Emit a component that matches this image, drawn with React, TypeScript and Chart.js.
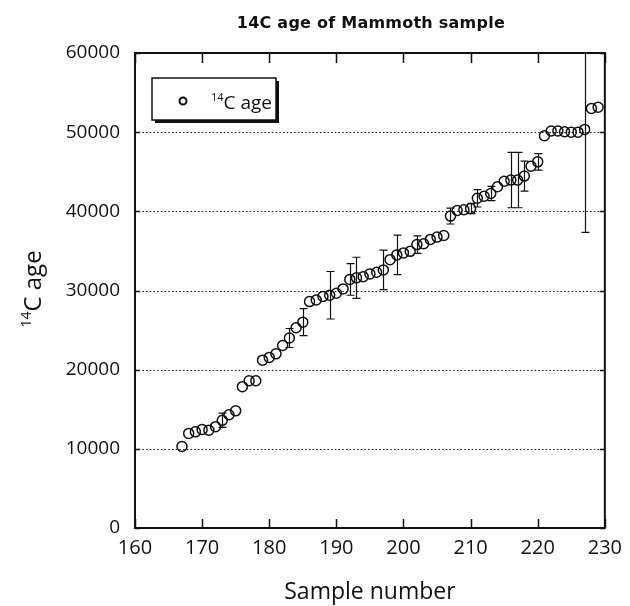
import React, { useEffect, useRef } from "react";
import { Chart, registerables } from "chart.js";

Chart.register(...registerables);

const samples = [
  167, 168, 169, 170, 171, 172, 173, 174, 175, 176, 177, 178, 179, 180, 181, 182,
  183, 184, 185, 186, 187, 188, 189, 190, 191, 192, 193, 194, 195, 196, 197, 198,
  199, 200, 201, 202, 203, 204, 205, 206, 207, 208, 209, 210, 211, 212, 213, 214,
  215, 216, 217, 218, 219, 220, 221, 222, 223, 224, 225, 226, 227, 228, 229,
];

const ages = [
  10300, 11950, 12150, 12450, 12350, 12800, 13600, 14300, 14800, 17850, 18600, 18600,
  21200, 21550, 22000, 23050, 24000, 25300, 26000, 28600, 28800, 29250, 29400, 29650,
  30200, 31400, 31600, 31750, 32100, 32300, 32600, 33900, 34500, 34750, 34950, 35800,
  35900, 36450, 36750, 36950, 39400, 40100, 40200, 40350, 41650, 41900, 42250, 43100,
  43800, 43950, 43950, 44450, 45700, 46250, 49550, 50150, 50150, 50050, 50000, 50000,
  50350, 53000, 53150,
];

const errors = [
  0, 0, 0, 0, 0, 0, 900, 0, 0, 0, 0, 0,
  0, 0, 0, 0, 1200, 0, 1700, 0, 0, 0, 3000, 0,
  0, 2000, 2600, 0, 0, 0, 2500, 0, 2500, 0, 0, 1100,
  0, 0, 0, 0, 1000, 0, 0, 650, 1100, 0, 900, 0,
  0, 3500, 3500, 1900, 0, 1050, 0, 0, 0, 0, 0, 0,
  13000, 0, 0,
];

const xTicks = [160, 170, 180, 190, 200, 210, 220, 230];
const yTicks = [0, 10000, 20000, 30000, 40000, 50000, 60000];

const titleText = "14C age of Mammoth sample";
const xAxisTitle = "Sample number";
const yAxisTitleSup = "14";
const yAxisTitleMain = "C age";
const legendSup = "14";
const legendMain = "C age";

const INK = "#111111";

const decorPlugin = {
  id: "decor",
  beforeDatasetsDraw(chart: any) {
    const { ctx, chartArea, scales } = chart;
    const xs = scales.x;
    const ys = scales.y;
    const { left, right, top, bottom } = chartArea;
    ctx.save();
    ctx.strokeStyle = INK;
    ctx.lineWidth = 1.2;
    ctx.setLineDash([1.5, 2.2]);
    yTicks.forEach((v) => {
      if (v === yTicks[0] || v === yTicks[yTicks.length - 1]) return;
      const y = Math.round(ys.getPixelForValue(v)) + 0.5;
      ctx.beginPath();
      ctx.moveTo(left, y);
      ctx.lineTo(right, y);
      ctx.stroke();
    });
    ctx.setLineDash([]);
    ctx.lineWidth = 1.5;
    yTicks.forEach((v) => {
      const y = Math.round(ys.getPixelForValue(v)) + 0.5;
      ctx.beginPath();
      ctx.moveTo(left, y);
      ctx.lineTo(left + 5, y);
      ctx.moveTo(right, y);
      ctx.lineTo(right - 5, y);
      ctx.stroke();
    });
    xTicks.forEach((v) => {
      const x = Math.round(xs.getPixelForValue(v)) + 0.5;
      ctx.beginPath();
      ctx.moveTo(x, bottom);
      ctx.lineTo(x, bottom - 9);
      ctx.moveTo(x, top);
      ctx.lineTo(x, top + 10);
      ctx.stroke();
    });
    ctx.lineWidth = 2;
    ctx.strokeRect(left, top, right - left, bottom - top);

    ctx.beginPath();
    ctx.rect(left, top, right - left, bottom - top);
    ctx.clip();
    ctx.lineWidth = 1.2;
    samples.forEach((s, i) => {
      const e = errors[i];
      if (!e) return;
      const x = Math.round(xs.getPixelForValue(s)) + 0.5;
      const y1 = ys.getPixelForValue(ages[i] - e);
      const y2 = ys.getPixelForValue(ages[i] + e);
      ctx.beginPath();
      ctx.moveTo(x, y1);
      ctx.lineTo(x, y2);
      ctx.moveTo(x - 4, y1);
      ctx.lineTo(x + 4, y1);
      ctx.moveTo(x - 4, y2);
      ctx.lineTo(x + 4, y2);
      ctx.stroke();
    });
    ctx.restore();
  },
  afterDraw(chart: any) {
    const { ctx, chartArea } = chart;
    const { left, right } = chartArea;
    const cx = (left + right) / 2;
    ctx.save();
    ctx.fillStyle = INK;

    ctx.font = "bold 16px 'DejaVu Sans'";
    ctx.textAlign = "left";
    ctx.textBaseline = "alphabetic";
    const targetW = 268;
    const w0 = ctx.measureText(titleText).width;
    const ls = Math.max(0, (targetW - w0) / (titleText.length - 1));
    (ctx as any).letterSpacing = ls.toFixed(2) + "px";
    const w1 = ctx.measureText(titleText).width;
    ctx.fillText(titleText, cx - w1 / 2 + 1, 28);
    (ctx as any).letterSpacing = "0px";

    ctx.font = "23px 'Open Sans'";
    ctx.textAlign = "center";
    ctx.fillText(xAxisTitle, cx, 599);

    ctx.save();
    ctx.translate(41, 289);
    ctx.rotate(-Math.PI / 2);
    ctx.textAlign = "left";
    ctx.font = "14px 'Open Sans'";
    const sw = ctx.measureText(yAxisTitleSup).width;
    ctx.font = "24px 'Open Sans'";
    const mw = ctx.measureText(yAxisTitleMain).width;
    const start = -(sw + mw) / 2;
    ctx.font = "14px 'Open Sans'";
    ctx.fillText(yAxisTitleSup, start, -10);
    ctx.font = "24px 'Open Sans'";
    ctx.fillText(yAxisTitleMain, start + sw, 0);
    ctx.restore();

    const bx = 152, by = 78, bw = 124, bh = 42;
    ctx.fillStyle = INK;
    ctx.fillRect(bx + 3, by + 3, bw, bh);
    ctx.fillStyle = "#ffffff";
    ctx.fillRect(bx, by, bw, bh);
    ctx.strokeStyle = INK;
    ctx.lineWidth = 1.5;
    ctx.strokeRect(bx, by, bw, bh);
    ctx.lineWidth = 2;
    ctx.beginPath();
    ctx.arc(183, 101, 3.5, 0, Math.PI * 2);
    ctx.stroke();
    ctx.fillStyle = INK;
    ctx.textAlign = "left";
    ctx.font = "11px 'Open Sans'";
    ctx.fillText(legendSup, 211, 101);
    const lw = ctx.measureText(legendSup).width;
    ctx.font = "19px 'Open Sans'";
    ctx.fillText(legendMain, 211 + lw, 109);

    ctx.restore();
  },
};

export default function App() {
  const canvasRef = useRef<HTMLCanvasElement | null>(null);

  useEffect(() => {
    if (!canvasRef.current) return;
    const chart = new Chart(canvasRef.current, {
      type: "scatter",
      data: {
        datasets: [
          {
            label: "14C age",
            data: samples.map((s, i) => ({ x: s, y: ages[i] })),
            pointStyle: "circle",
            pointRadius: 5,
            pointBorderWidth: 1.5,
            pointBorderColor: INK,
            pointBackgroundColor: "rgba(255,255,255,0)",
            showLine: false,
          },
        ],
      },
      options: {
        animation: false,
        responsive: false,
        events: [],
        layout: { padding: { top: 53, right: 22, left: 0, bottom: 0 } },
        plugins: {
          legend: { display: false },
          tooltip: { enabled: false },
          title: { display: false },
        },
        scales: {
          x: {
            type: "linear",
            min: 160,
            max: 230,
            afterBuildTicks: (scale: any) => {
              scale.ticks = xTicks.map((v) => ({ value: v }));
            },
            afterFit: (scale: any) => {
              scale.height = 78;
            },
            grid: { display: false, drawTicks: false },
            border: { display: false },
            ticks: {
              color: INK,
              padding: 8,
              font: { family: "'Open Sans'", size: 20 },
              maxRotation: 0,
              autoSkip: false,
            },
          },
          y: {
            type: "linear",
            min: 0,
            max: 60000,
            afterBuildTicks: (scale: any) => {
              scale.ticks = yTicks.map((v) => ({ value: v }));
            },
            afterFit: (scale: any) => {
              scale.width = 135;
            },
            grid: { display: false, drawTicks: false },
            border: { display: false },
            ticks: {
              color: INK,
              padding: 15,
              font: { family: "'Open Sans'", size: 19 },
              callback: (v: any) => String(v),
            },
          },
        },
      },
      plugins: [decorPlugin],
    });
    return () => chart.destroy();
  }, []);

  return (
    <div style={{ position: "absolute", left: 0, top: 0, width: 630, height: 606, background: "#fff" }}>
      <canvas ref={canvasRef} width={630} height={606} style={{ display: "block" }} />
    </div>
  );
}
